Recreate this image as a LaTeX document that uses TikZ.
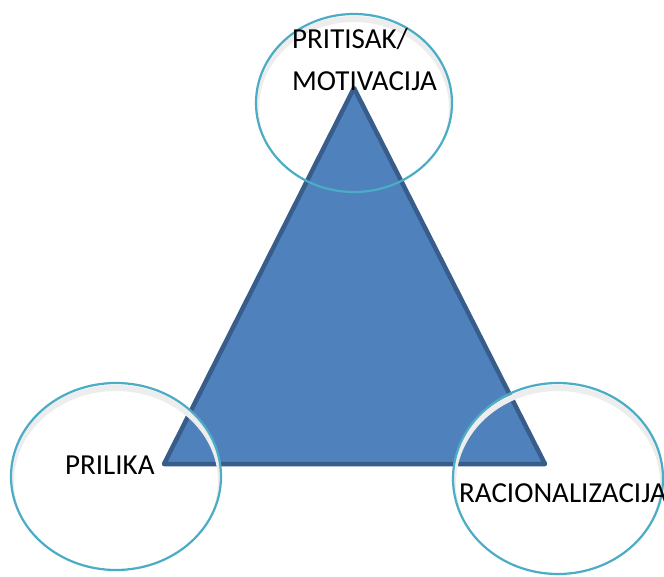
\documentclass[tikz,border=0pt]{standalone}
\usepackage{fontspec}
\setmainfont{Carlito}
\usetikzlibrary{shapes.geometric}
\begin{document}
\begin{tikzpicture}[x=1pt,y=-1pt,
  tri/.style={fill=triblue,draw=triedge,line width=4.5pt,line join=round},
  ring/.style={ellipse,draw=ringcol,line width=2.2pt,inner sep=0pt},
  shade/.style={draw=black!7,line width=6pt},
  lbl/.style={anchor=base west,inner sep=0pt,font=\fontsize{29}{42}\selectfont}]
\definecolor{triblue}{HTML}{4F81BD}
\definecolor{triedge}{HTML}{385D8A}
\definecolor{ringcol}{HTML}{4BACC6}
\useasboundingbox (0,0) rectangle (664,576);
\fill[white] (0,0) rectangle (664,576);
% triangle
\coordinate (apex) at (354,88);
\coordinate (bl) at (164,464);
\coordinate (br) at (545,464);
\draw[tri] (apex) -- (br) -- (bl) -- cycle;
% soft inner shadows
\begin{scope}
\clip (354,103) ellipse [x radius=98, y radius=89];
\draw[shade] (354,108) ellipse [x radius=98, y radius=89];
\end{scope}
\begin{scope}
\clip (116,476.5) ellipse [x radius=105, y radius=93.5];
\draw[shade] (116,481.5) ellipse [x radius=105, y radius=93.5];
\end{scope}
\begin{scope}
\clip (558,478.5) ellipse [x radius=105, y radius=95.5];
\draw[shade] (558,483.5) ellipse [x radius=105, y radius=95.5];
\end{scope}
% ellipses
\node[ring,minimum width=196pt,minimum height=178pt] (etop) at (354,103) {};
\node[ring,minimum width=210pt,minimum height=187pt] (eleft) at (116,476.5) {};
\node[ring,minimum width=210pt,minimum height=191pt] (eright) at (558,478.5) {};
% labels
\node[lbl] (t1) at (292,48) {PRITISAK/};
\node[lbl] (t2) at (292,90) {MOTIVACIJA};
\node[lbl] (t3) at (65,474) {PRILIKA};
\node[lbl] (t4) at (459,502) {RACIONALIZACIJA};
\end{tikzpicture}
\end{document}
